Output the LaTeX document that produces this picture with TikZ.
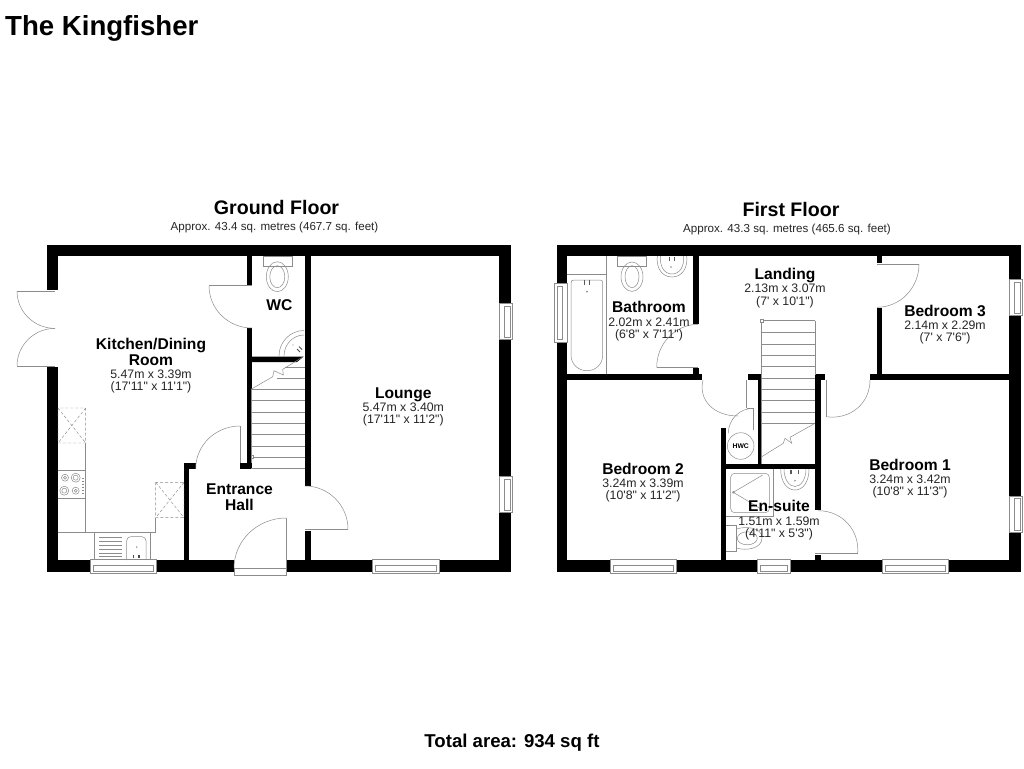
\documentclass[tikz,border=0pt]{standalone}
\usepackage{fontspec}
\usetikzlibrary{calc}
\newfontfamily\lib{Liberation Sans}
\definecolor{fixcol}{gray}{0.55}
\tikzset{
  x=1pt,y=-1pt,
  fix/.style={draw=fixcol,line width=0.5pt},
  dashfix/.style={draw=fixcol,line width=0.45pt,densely dashed},
  winbox/.style={draw=fixcol,line width=0.45pt,fill=white},
  wallfill/.style={fill=black},
  tread/.style={draw=fixcol,line width=0.5pt},
  rname/.style={anchor=base,inner sep=0pt,font=\lib\bfseries\fontsize{15.6}{18}\selectfont},
  rdim/.style={anchor=base,inner sep=0pt,font=\lib\fontsize{12.3}{14}\selectfont,text=black!85},
  heading/.style={anchor=base,inner sep=0pt,font=\lib\bfseries\fontsize{19.6}{22}\selectfont},
  sub/.style={anchor=base,inner sep=0pt,font=\lib\fontsize{11.6}{14}\selectfont,text=black!85},
}
\newcommand\qarc[6]{\draw[fix] (#3,#4) .. controls ($(#3,#4)+0.5523*(#5,#6)-0.5523*(#1,#2)$) and ($(#5,#6)+0.5523*(#3,#4)-0.5523*(#1,#2)$) .. (#5,#6);}
\newcommand\hwin[4]{\draw[winbox] (#1,#3) rectangle (#2,#4);\draw[fix] (#1+3,#3+6) rectangle (#2-3,#4-2);}
\newcommand\vwinR[4]{\draw[winbox] (#1,#3) rectangle (#2,#4);\draw[fix] (#1+5,#3+2.5) rectangle (#2-2,#4-2.5);}
\newcommand\vwinL[4]{\draw[winbox] (#1,#3) rectangle (#2,#4);\draw[fix] (#1+2.5,#3+3) rectangle (#2-5,#4-3);}
\newcommand\crossbox[4]{\draw[dashfix] (#1,#2) rectangle (#3,#4) (#1,#2) -- (#3,#4) (#3,#2) -- (#1,#4);}
\begin{document}
\begin{tikzpicture}
\useasboundingbox (0,0) rectangle (1024,768);
\fill[white] (0,0) rectangle (1024,768);

% ---------- walls: ground floor
\foreach \a/\b/\c/\d in {
  47/245/511/256, 47/245/58/290, 47/367/58/572,
  47/560/90/572, 156/560/234/572, 287/560/372/572, 439/560/511/572,
  499/245/511/303.5, 499/339/511/476.5, 499/512.5/511/572,
  246.7/256/251.7/284.5, 246.7/328/251.7/469, 240/463/251.7/469,
  305/256/310.7/486, 305/530.7/310.7/560,
  184.3/463.3/189.3/560, 184.3/463.3/195.5/469}
  {\fill[wallfill] (\a,\b) rectangle (\c,\d);}
\fill[wallfill] (251.7,356.7) -- (303.5,356.7) -- (297,362) -- (251.7,362) -- cycle;

% ---------- walls: first floor
\foreach \a/\b/\c/\d in {
  557/245/1021/256, 557/245/567.3/283.5, 557/342.7/567.3/572,
  557/560/610/572, 676/560/757.5/572, 790/560/882/572, 948/560/1021/572,
  1009.3/245/1021/279.5, 1009.3/315.3/1021/496, 1009.3/532.7/1021/572,
  693.3/256/699/324, 693.3/368.3/699/380, 567.3/374.3/702.3/380,
  748.3/374.3/761/380, 758.3/374.3/761/469,
  720.7/464/820.7/469, 720.7/428.3/726/560,
  815/374.3/820.7/510, 815/374.3/825/380, 815/555/820.7/560,
  876.7/256/882/262.7, 876.7/307.5/882/380, 870/374.3/1009.3/380}
  {\fill[wallfill] (\a,\b) rectangle (\c,\d);}

% ---------- windows
\hwin{90}{156}{559.5}{572.8}
\hwin{372}{439}{559.5}{572.8}
\hwin{610}{676}{559.5}{572.8}
\hwin{757.5}{790}{559.5}{572.8}
\hwin{882}{948}{559.5}{572.8}
\vwinR{499.5}{512.7}{303.3}{339.3}
\vwinR{499.5}{512.7}{476.3}{512.7}
\vwinR{1009.5}{1022.5}{279.3}{315.3}
\vwinR{1009.5}{1022.5}{496}{532.7}
\vwinL{554.7}{567.5}{283.3}{342.7}

% ---------- doors: ground floor
\draw[fix] (17,291) -- (55,291);
\qarc{55}{291}{17}{291}{55}{328.4}
\draw[fix] (17,366) -- (55,366);
\qarc{55}{366}{17}{366}{55}{328.4}
\draw[fix] (209,285.7) -- (252,285.7);
\qarc{252}{285.7}{209}{285.7}{252}{328}
\draw[fix] (240,426) -- (240,463);
\qarc{240}{468.7}{240}{426}{195.7}{468.7}
\draw[fix] (234,568.3) -- (234,575) -- (286.3,575) -- (286.3,518);
\draw[fix] (234,568.3) -- (286.3,568.3);
\qarc{286.3}{568.3}{286.3}{518}{234}{568.3}
\draw[fix] (305,529.3) -- (348,529.3);
\qarc{305}{529.3}{305}{486}{348}{529.3}

% ---------- doors: first floor
\draw[fix] (877,264) -- (919,264);
\qarc{877}{264}{919}{264}{877}{307.3}
\draw[fix] (826,380) -- (826,416.7);
\qarc{826}{374}{826}{416.7}{870}{380}
\draw[fix] (815,553.3) -- (857.7,553.3);
\qarc{815}{553.3}{818.3}{510.7}{857.7}{553.3}
\draw[fix] (656.7,367.3) -- (698.3,367.3);
\qarc{698.3}{367.3}{698.3}{324.3}{656.7}{367.3}
\draw[fix] (746.7,380) -- (746.7,408.3);
\qarc{747}{380}{703}{380}{738}{416}
\draw[fix] (746.7,408.3) -- (753.3,408.3) -- (753.3,430);
\qarc{753.3}{433.3}{753.3}{408.3}{728.3}{433.3}

% ---------- kitchen
\crossbox{58}{408}{85.7}{443}
\crossbox{155.7}{482.3}{184}{517.7}
\draw[fix] (85.7,443) -- (85.7,532.7) (58,532.7) -- (155.7,532.7) -- (155.7,517.7);
\draw[fix] (58,470.7) -- (85.7,470.7) (58,498.3) -- (85.7,498.3);
\foreach \p/\q/\r in {65/477.7/3.5, 75.7/477.7/4.5, 64.3/490.7/4.5, 75.7/490.7/3.5}
  {\draw[fix] (\p,\q) circle[radius=\r pt]; \draw[fix] (\p,\q) circle[radius=\r pt-2pt];}
\foreach \q in {478,481,484,487,490,493}
  {\draw[fix] (82,\q) -- (83.5,\q);}
\draw[fix] (94.3,532.7) -- (94.3,560) (150.7,532.7) -- (150.7,560);
\foreach \q in {537,541,545,549,553,556.5}
  {\draw[fix] (99.3,\q) -- (122,\q);}
\draw[fix,rounded corners=4pt] (126.7,560) -- (126.7,536.7) -- (146,536.7) -- (146,560);
\draw[line width=1.3pt,black!70] (133.3,554.5) -- (133.3,558) (139,554.5) -- (139,558);
\fill[fixcol] (136.7,547) circle[radius=0.8pt];

% ---------- WC
\draw[fix] (263,256) rectangle (292,266);
\draw[fix] (277.3,276.7) ellipse[x radius=11pt,y radius=15pt];
\draw[fix] (277.3,276.7) ellipse[x radius=7.5pt,y radius=11pt];
\qarc{304}{356}{304}{330.5}{279}{356}
\qarc{304}{356}{304}{335}{284}{356}
\draw[line width=0.9pt,black!70] (297,349) -- (300,352) (299,346.5) -- (302,349.5);
\fill[fixcol] (293,345) circle[radius=0.7pt];

% ---------- ground-floor stairs
\foreach \q/\l in {367.3/285, 378.3/277, 389.3/251, 400.7/251, 412/251, 423.3/251, 434.7/251, 446/251, 457.3/251, 468.7/251}
  {\draw[tread] (\l,\q) -- (305,\q);}
\draw[tread] (251,389.3) -- (251,463);
\draw[tread] (251,389.3) -- (272.7,376.7) -- (274,370.7) -- (283.3,375) -- (282.7,369.3) -- (303.3,356.7);
\draw[fix,fill=white] (250.8,455.5) rectangle (253.2,458.5);

% ---------- bathroom
\draw[fix] (606.7,256) -- (606.7,374.3) (567.3,274) -- (606.7,274);
\draw[fix] (571,283) .. controls (571,281) and (572,280) .. (574,280) -- (600,280) .. controls (602,280) and (602.7,281) .. (602.7,283) -- (602.7,355) .. controls (602.7,365) and (595,370.7) .. (587,370.7) .. controls (579,370.7) and (571,365) .. (571,355) -- cycle;
\draw[line width=1.2pt,black!65] (584.3,279.5) -- (584.3,284.5) (589.3,279.5) -- (589.3,284.5);
\fill[fixcol] (587,291.7) circle[radius=1pt];
\draw[fix] (617.7,256) rectangle (646.7,266);
\draw[fix] (632,276.7) ellipse[x radius=11pt,y radius=14.7pt];
\draw[fix] (632,276.7) ellipse[x radius=7pt,y radius=11pt];
\draw[fix] (657.3,256) .. controls (656,268) and (662,277) .. (672,277) .. controls (682,277) and (688,268) .. (686.7,256);
\draw[fix] (660.5,256) .. controls (659.5,266) and (664,274) .. (672,274) .. controls (680,274) and (684.5,266) .. (683.5,256);
\draw[line width=1.2pt,black!65] (669.3,256.5) -- (669.3,261) (674.3,256.5) -- (674.3,261);
\fill[fixcol] (671,267) circle[radius=0.9pt];

% ---------- first-floor stairs
\foreach \q in {320.7,332.7,344,355.3,366.7,378,389.3,400.7,412,423}
  {\draw[tread] (761.7,\q) -- (815,\q);}
\draw[tread] (761.7,320.7) -- (761.7,464) (815,320.7) -- (815,375);
\draw[tread] (815,423.3) -- (790,437.3) -- (791.7,443.3) -- (785,438.3) -- (783.3,443.3) -- (761.7,456.7);
\draw[fix,fill=white] (760,319) rectangle (763.4,322.4);

% ---------- HWC
\node[draw=fixcol,line width=0.5pt,circle,minimum size=26.6pt,inner sep=0pt,font=\lib\bfseries\fontsize{6.8}{8}\selectfont] (hwc) at (740.7,446) {HWC};

% ---------- en-suite
\draw[fix] (726,516) -- (773.3,516) -- (773.3,469);
\draw[fix,rounded corners=4pt] (730.7,473.3) rectangle (769.3,512.7);
\draw[fix] (762.7,475) -- (733.3,492.3) -- (762.7,510);
\draw[fix] (733.3,492.3) circle[radius=1pt];
\draw[fix] (780.7,469) .. controls (780.7,482) and (787,490) .. (795,490) .. controls (803,490) and (809,482) .. (809,469);
\draw[fix] (784,469) .. controls (784,479) and (789,486.5) .. (795,486.5) .. controls (801,486.5) and (806,479) .. (806,469);
\draw[line width=1.2pt,black!65] (791,469.5) -- (791,474) (798.3,469.5) -- (798.3,474);
\fill[fixcol] (795,480.7) circle[radius=0.9pt];
\draw[fix] (726,525) -- (736.7,525) -- (736.7,551.7) -- (726,551.7);
\draw[fix] (736.7,529) .. controls (745,526) and (762,527) .. (762,538) .. controls (762,549) and (745,551) .. (736.7,548);
\draw[fix] (747.3,538.3) ellipse[x radius=10pt,y radius=6.5pt];

% ---------- texts
\node[anchor=base west,inner sep=0pt,font=\lib\bfseries\fontsize{27.6}{30}\selectfont] (title) at (5,36) {The Kingfisher};
\node[heading] (gf) at (276.5,214.5) {Ground Floor};
\node[sub] (gfa) at (274.5,230.5) {Approx. 43.4 sq. metres (467.7 sq. feet)};
\node[heading] (ff) at (791,216) {First Floor};
\node[sub] (ffa) at (787,232) {Approx. 43.3 sq. metres (465.6 sq. feet)};
\node[anchor=base,inner sep=0pt,font=\lib\bfseries\fontsize{18.6}{22}\selectfont] (total) at (512,747) {Total area: 934 sq ft};

\node[rname] (k1) at (151,349) {Kitchen/Dining};
\node[rname] (k2) at (151,365.5) {Room};
\node[rdim] (k3) at (151,378.7) {5.47m x 3.39m};
\node[rdim] (k4) at (151,390.7) {(17'11" x 11'1")};

\node[rname] (l1) at (403.3,398.7) {Lounge};
\node[rdim] (l2) at (403.3,411) {5.47m x 3.40m};
\node[rdim] (l3) at (403.3,423) {(17'11" x 11'2")};

\node[rname] (e1) at (239.5,494) {Entrance};
\node[rname] (e2) at (239.5,510) {Hall};
\node[rname] (w1) at (279.3,310.7) {WC};

\node[rname] (b1) at (649,312.3) {Bathroom};
\node[rdim] (b2) at (649,326) {2.02m x 2.41m};
\node[rdim] (b3) at (649,338) {(6'8" x 7'11")};

\node[rname] (la1) at (785,279.3) {Landing};
\node[rdim] (la2) at (785,292.7) {2.13m x 3.07m};
\node[rdim] (la3) at (785,305) {(7' x 10'1")};

\node[rname] (t1) at (945,316) {Bedroom 3};
\node[rdim] (t2) at (945,329.3) {2.14m x 2.29m};
\node[rdim] (t3) at (945,341.7) {(7' x 7'6")};

\node[rname] (s1) at (643,474) {Bedroom 2};
\node[rdim] (s2) at (643,487) {3.24m x 3.39m};
\node[rdim] (s3) at (643,499) {(10'8" x 11'2")};

\node[rname] (m1) at (910,470) {Bedroom 1};
\node[rdim] (m2) at (910,483.3) {3.24m x 3.42m};
\node[rdim] (m3) at (910,495.7) {(10'8" x 11'3")};

\node[rname] (n1) at (779,511.7) {En-suite};
\node[rdim] (n2) at (779,525) {1.51m x 1.59m};
\node[rdim] (n3) at (779,537.3) {(4'11" x 5'3")};
\end{tikzpicture}
\end{document}
